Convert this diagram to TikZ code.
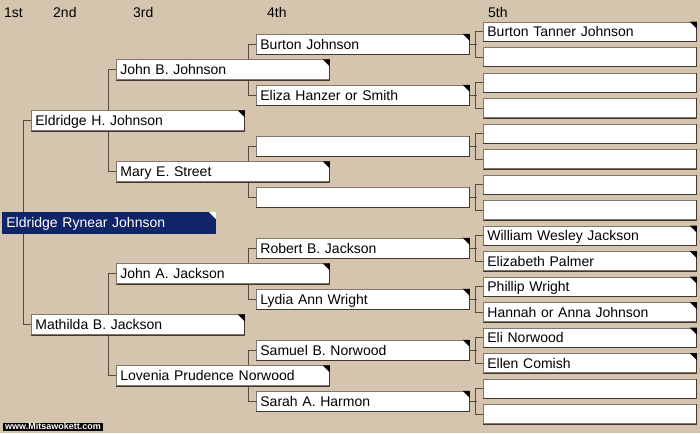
\documentclass[tikz,border=0pt]{standalone}
\usepackage{fontspec}
\setmainfont{Liberation Sans}
\definecolor{paper}{RGB}{213,197,175}
\definecolor{wire}{RGB}{88,74,60}
\definecolor{rim}{RGB}{130,118,108}
\definecolor{rimdark}{RGB}{66,56,48}
\definecolor{navy}{RGB}{16,36,104}
\pgfdeclarelayer{back}
\pgfdeclarelayer{wires}
\pgfsetlayers{back,wires,main}
\tikzset{
	person/.style={draw=rim,line width=.8pt,fill=white,anchor=west,inner xsep=4pt,inner ysep=0pt,
		text width=205pt,align=left,minimum height=20pt,text height=11.5pt,text depth=1.5pt},
	wire/.style={draw=wire,line width=.8pt},
	gen/.style={anchor=base west,inner sep=0pt}
}
\begin{document}
\begin{tikzpicture}[x=1pt,y=-1pt,line join=round,font=\fontsize{14}{16}\selectfont]
	\begin{pgfonlayer}{back}
		\fill[paper] (0,0) rectangle (700,433);
	\end{pgfonlayer}
	\useasboundingbox (0,0) rectangle (700,433);
	% column heads
	\foreach \x/\g in {4/1st,53/2nd,133/3rd,267/4th,488/5th}{
		\node[gen] (h\g) at (\x,18) {\g};
	}
	% 1st
	\node[person,fill=navy,draw=navy,text=white,minimum height=21pt] (a1) at (2,222.75) {Eldridge Rynear Johnson};
	\fill[white] (a1.north east) -- ++(-7,0) -- ++(7,7) -- cycle;
	% 2nd
	\foreach \n/\y/\who in {2/120.75/Eldridge H. Johnson,3/324.75/Mathilda B. Jackson}{
		\node[person] (a\n) at (31,\y) {\who};
	}
	% 3rd
	\foreach \n/\y/\who in {4/69.75/John B. Johnson,5/171.75/Mary E. Street,
		6/273.75/John A. Jackson,7/375.75/Lovenia Prudence Norwood}{
		\node[person] (a\n) at (116,\y) {\who};
	}
	% 4th
	\foreach \n/\y/\who in {8/44.25/Burton Johnson,9/95.25/Eliza Hanzer or Smith,10/146.25/,11/197.25/,
		12/248.25/Robert B. Jackson,13/299.25/Lydia Ann Wright,14/350.25/Samuel B. Norwood,15/401.25/Sarah A. Harmon}{
		\node[person] (a\n) at (256,\y) {\who};
	}
	% 5th
	\foreach \n/\who in {16/Burton Tanner Johnson,17/,18/,19/,20/,21/,22/,23/,
		24/William Wesley Jackson,25/Elizabeth Palmer,26/Phillip Wright,27/Hannah or Anna Johnson,
		28/Eli Norwood,29/Ellen Comish,30/,31/}{
		\pgfmathsetmacro\y{31.5+25.5*(\n-16)}
		\node[person,minimum height=19pt] (a\n) at (483,\y) {\who};
	}
	% darker lower and right rims
	\foreach \n in {2,...,31}{
		\draw[rimdark,line width=.8pt] (a\n.north east) |- (a\n.south west);
	}
	% corner marks
	\foreach \n in {2,3,4,5,6,7,8,9,12,13,14,15,16,24,25,26,27,28,29}{
		\fill (a\n.north east) -- ++(-7,0) -- ++(7,7) -- cycle;
	}
	% connectors
	\begin{pgfonlayer}{wires}
		\foreach \n in {1,...,15}{
			\pgfmathtruncatemacro\fa{2*\n}
			\pgfmathtruncatemacro\mo{2*\n+1}
			\draw[wire] (a\fa.west) -- ++(-7.5,0) |- (a\mo.west);
		}
		\foreach \n in {8,...,15}{
			\draw[wire] (a\n.east) -- ++(7,0);
		}
	\end{pgfonlayer}
	\node[fill=black,text=white,font=\fontsize{9}{9}\bfseries\selectfont,inner xsep=2pt,inner ysep=0pt,
		text height=6.5pt,text depth=1.5pt,anchor=south west] (mark) at (3,431) {www.Mitsawokett.com};
\end{tikzpicture}
\end{document}
